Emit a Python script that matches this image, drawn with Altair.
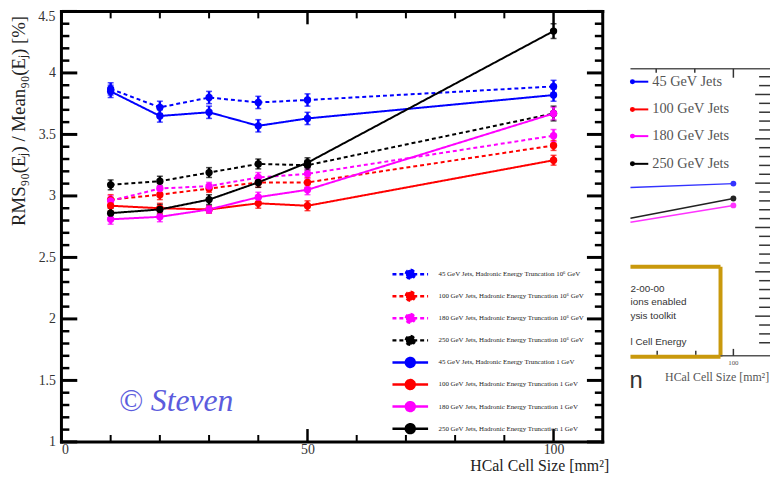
import altair as alt
import pandas as pd

# ---------------- data ----------------
x_cell = [10, 20, 30, 40, 50, 100]

series_names = [
    "45 GeV Jets, Hadronic Energy Truncation 10\u2076 GeV",
    "100 GeV Jets, Hadronic Energy Truncation 10\u2076 GeV",
    "180 GeV Jets, Hadronic Energy Truncation 10\u2076 GeV",
    "250 GeV Jets, Hadronic Energy Truncation 10\u2076 GeV",
    "45 GeV Jets, Hadronic Energy Truncation 1 GeV",
    "100 GeV Jets, Hadronic Energy Truncation 1 GeV",
    "180 GeV Jets, Hadronic Energy Truncation 1 GeV",
    "250 GeV Jets, Hadronic Energy Truncation 1 GeV",
]

j45_t6 = [3.87, 3.72, 3.80, 3.76, 3.78, 3.89]
j100_t6 = [2.97, 3.01, 3.06, 3.11, 3.11, 3.41]
j180_t6 = [2.96, 3.06, 3.08, 3.15, 3.18, 3.49]
j250_t6 = [3.09, 3.12, 3.19, 3.26, 3.25, 3.67]
j45_t1 = [3.85, 3.65, 3.68, 3.57, 3.63, 3.82]
j100_t1 = [2.92, 2.90, 2.89, 2.94, 2.92, 3.29]
j180_t1 = [2.81, 2.83, 2.89, 2.99, 3.05, 3.67]
j250_t1 = [2.86, 2.89, 2.97, 3.11, 3.27, 4.34]

e45 = [0.05, 0.05, 0.05, 0.05, 0.05, 0.05]
e100 = [0.04, 0.04, 0.03, 0.04, 0.04, 0.04]
e180 = [0.04, 0.04, 0.03, 0.04, 0.04, 0.05]
e250 = [0.04, 0.04, 0.04, 0.04, 0.04, 0.06]

values = [j45_t6, j100_t6, j180_t6, j250_t6, j45_t1, j100_t1, j180_t1, j250_t1]
errors = [e45, e100, e180, e250, e45, e100, e180, e250]

colors = ["#0000ff", "#ff0000", "#ff00ff", "#000000"] * 2
dashes = [[4, 3]] * 4 + [[1, 0]] * 4

y_major = [1, 1.5, 2, 2.5, 3, 3.5, 4, 4.5]
x_major = [0, 50, 100]
y_top_label = ["4.5"]

rows = []
for name, ys_, es_ in zip(series_names, values, errors):
    for xv, yv, ev in zip(x_cell, ys_, es_):
        rows.append({"series": name, "x": xv, "y": yv,
                     "lo": round(yv - ev, 3), "hi": round(yv + ev, 3)})
df = pd.DataFrame(rows)

y_minor = [round(1 + 0.1 * i, 2) for i in range(36) if i % 5 != 0]
x_minor = [v for v in range(10, 111, 10) if v not in x_major]

W, H = 547, 435
SERIF = "Liberation Serif"
xs = alt.Scale(domain=[0, 110], nice=False, zero=False)
ysc = alt.Scale(domain=[1, 4.5], nice=False, zero=False)

PATH = ("M-2,0H2M0.5,0A0.5,0.5,0,1,1,-0.5,0"
        "A0.5,0.5,0,1,1,0.5,0Z")
leg = alt.Legend(title=None, orient="none", legendX=342, legendY=255,
                 symbolType=PATH, symbolSize=324, symbolStrokeWidth=2.5,
                 symbolOpacity=1,
                 labelFont=SERIF, labelFontSize=7, labelColor="#222222",
                 labelOffset=18, rowPadding=2.3, padding=0, symbolLimit=0,
                 labelLimit=400)

stroke_enc = alt.Stroke("series:N", sort=series_names,
                        scale=alt.Scale(domain=series_names, range=colors), legend=leg)
fill_enc = alt.Fill("series:N", sort=series_names,
                    scale=alt.Scale(domain=series_names, range=colors), legend=leg)
dash_enc = alt.StrokeDash("series:N", sort=series_names,
                          scale=alt.Scale(domain=series_names, range=dashes), legend=leg)

x_axis = alt.Axis(values=x_major, grid=False, domain=False, ticks=False,
                  labelFont=SERIF, labelFontSize=14, labelColor="#333333",
                  labelPadding=1, title="HCal Cell Size [mm\u00b2]",
                  titleFont=SERIF, titleFontSize=16, titleFontWeight="normal",
                  titleColor="#222222", titleAnchor="end", titleAlign="right",
                  titleX=553, titleY=29, titleBaseline="alphabetic")
y_axis = alt.Axis(values=y_major, format="~g", grid=False, domain=False, ticks=False,
                  labelExpr="datum.value >= 4.5 ? '' : datum.label",
                  labelFont=SERIF, labelFontSize=14, labelColor="#333333",
                  labelPadding=6,
                  title="RMS\u2089\u2080(E\u2c7c) / Mean\u2089\u2080(E\u2c7c) [%]",
                  titleFont=SERIF, titleFontSize=19, titleFontWeight="normal",
                  titleColor="#222222", titleAnchor="end", titleAngle=270,
                  titleAlign="right", titleX=-37, titleY=4,
                  titleBaseline="alphabetic")

base = alt.Chart(df)
lines = base.mark_line(strokeWidth=2).encode(
    x=alt.X("x:Q", scale=xs, axis=x_axis),
    y=alt.Y("y:Q", scale=ysc, axis=y_axis),
    stroke=stroke_enc, strokeDash=dash_enc,
)
err = base.mark_rule(strokeWidth=2.5).encode(
    x="x:Q", y="lo:Q", y2="hi:Q", stroke=stroke_enc)
cap_hi = base.mark_tick(orient="horizontal", size=6, thickness=1.5).encode(
    x="x:Q", y="hi:Q", fill=fill_enc)
cap_lo = base.mark_tick(orient="horizontal", size=6, thickness=1.5).encode(
    x="x:Q", y="lo:Q", fill=fill_enc)
pts = base.mark_circle(size=55, opacity=1).encode(
    x="x:Q", y="y:Q", fill=fill_enc)

# top y label, kept inside the page (flush below its tick)
top_lab = alt.Chart(pd.DataFrame({"y": [y_major[-1]], "lab": y_top_label})).mark_text(
    align="right", baseline="top", fontSize=14, font=SERIF, color="#333333", dy=-1
).encode(y=alt.Y("y:Q", scale=ysc), x=alt.value(-6), text="lab:N")

# inward ticks of the frame
def yticks(vals, length, width):
    d = pd.DataFrame({"y": vals})
    left = alt.Chart(d).mark_rule(color="black", strokeWidth=width).encode(
        y=alt.Y("y:Q", scale=ysc), x=alt.value(0), x2=alt.value(length))
    right = alt.Chart(d).mark_rule(color="black", strokeWidth=width).encode(
        y=alt.Y("y:Q", scale=ysc), x=alt.value(W), x2=alt.value(W - length))
    return [left, right]

def xticks(vals, length, width):
    d = pd.DataFrame({"x": vals})
    bot = alt.Chart(d).mark_rule(color="black", strokeWidth=width).encode(
        x=alt.X("x:Q", scale=xs), y=alt.value(H), y2=alt.value(H - length))
    top = alt.Chart(d).mark_rule(color="black", strokeWidth=width).encode(
        x=alt.X("x:Q", scale=xs), y=alt.value(0), y2=alt.value(length))
    return [bot, top]

tick_layers = (yticks(y_major, 16, 3) + yticks(y_minor, 8, 2.5)
               + xticks(x_major, 13, 2.5) + xticks(x_minor, 7, 2))

one = pd.DataFrame({"k": [0]})

def txt(text, x, y, size, font, color, align="left", baseline="middle",
        style="normal", opacity=1.0):
    return alt.Chart(one).mark_text(
        text=text, align=align, baseline=baseline, fontSize=size, font=font,
        color=color, fontStyle=style, opacity=opacity
    ).encode(x=alt.value(x), y=alt.value(y))

def seg(x1, y1, x2, y2, color, width, cap="butt"):
    return alt.Chart(one).mark_rule(color=color, strokeWidth=width,
                                    strokeCap=cap).encode(
        x=alt.value(x1), y=alt.value(y1), x2=alt.value(x2), y2=alt.value(y2))

def dot(x, y, color, size=30):
    return alt.Chart(one).mark_circle(color=color, size=size, opacity=1).encode(
        x=alt.value(x), y=alt.value(y))

# thick plot frame
frame = [seg(0, 0, W, 0, "black", 3, "square"), seg(0, H, W, H, "black", 3, "square"),
         seg(0, 0, 0, H, "black", 3, "square"), seg(W, 0, W, H, "black", 3, "square")]

watermark = txt("\u00a9 Steven", 58, 404, 32, SERIF, "#4040d8",
                baseline="alphabetic", style="italic", opacity=0.85)

# fragment of a neighbouring figure on the right edge
frag = []
GR = "#555555"
frag.append(seg(575, 58, 716, 58, GR, 1.5))
for tx, tl in [(601, 4), (640, 4), (679, 9)]:
    frag.append(seg(tx, 58, tx, 58 + tl, "#333333", 1.5))
for yy, col, lab in [(71, "#0000ff", "45 GeV Jets"), (99, "#ff0000", "100 GeV Jets"),
                     (126, "#ff00ff", "180 GeV Jets"), (154, "#000000", "250 GeV Jets")]:
    frag.append(seg(575, yy, 593, yy, col, 2))
    frag.append(dot(577, yy, col, 25))
    frag.append(txt(lab, 597, yy, 14.5, SERIF, GR))
for y1, y2, col in [(178, 174, "#3333ff"), (209, 189, "#222222"), (213, 196, "#ff33ff")]:
    frag.append(seg(575, y1, 679, y2, col, 1.5))
    frag.append(dot(679, y2, col, 35))
# right-hand tick column
for i in range(40):
    yy = 66 + 8.96 * i
    if yy > 342:
        break
    major = (i % 5 == 2)
    frag.append(seg(701 if major else 705, yy, 716, yy, "#333333", 1.5))
# golden box
GOLD = "#c9990c"
frag.append(seg(575, 258, 666, 258, GOLD, 4))
frag.append(seg(666, 258, 666, 349, GOLD, 4))
frag.append(seg(575, 349, 666, 349, GOLD, 4))
for tx in [602, 641]:
    frag.append(seg(tx, 347, tx, 343, "#333333", 1.5))
SANS = "Liberation Sans"
for yy, t in [(281, "2-00-00"), (294, "ions enabled"), (308, "ysis toolkit"),
              (334, "l Cell Energy")]:
    frag.append(txt(t, 575, yy, 10, SANS, "#333333"))
frag.append(seg(666, 348, 716, 348, GR, 1.5))
frag.append(seg(679, 348, 679, 341, "#333333", 1.5))
frag.append(txt("100", 679, 355, 7, SERIF, GR, align="center"))
frag.append(txt("HCal Cell Size [mm\u00b2]", 610, 369, 12, SERIF, GR))
frag.append(txt("n", 574, 381, 24, SANS, "#333333", baseline="alphabetic"))

chart = alt.layer(
    lines, err, cap_hi, cap_lo, pts, top_lab, *tick_layers, *frame, watermark, *frag
).properties(
    width=W, height=H,
    autosize=alt.AutoSizeParams(type="none"),
    padding={"left": 54, "top": 1, "right": 169, "bottom": 34},
).configure_view(strokeWidth=0).configure(background="white")

chart.save("out.html", embed_options={"renderer": "svg", "actions": False})
